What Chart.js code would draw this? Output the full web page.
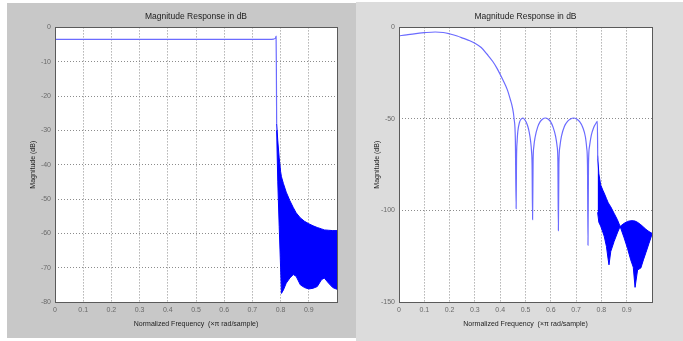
<!DOCTYPE html>
<html><head><meta charset="utf-8">
<script src="https://cdn.jsdelivr.net/npm/chart.js@4.4.0/dist/chart.umd.min.js"></script>
<style>
html,body{margin:0;padding:0;background:#fff;width:683px;height:341px;overflow:hidden}
.pnl{position:absolute}
#pL{left:7px;top:3px;width:349px;height:335px;background:#c8c8c8}
#pR{left:356px;top:2px;width:327px;height:339px;background:#dcdcdc}
canvas{position:absolute}
</style></head><body>
<div class="pnl" id="pL"></div><div class="pnl" id="pR"></div>
<canvas id="cvL" width="349" height="335" style="left:7px;top:3px"></canvas>
<canvas id="cvR" width="327" height="335" style="left:356px;top:3px"></canvas>
<script>
// ═══ DATA ═══
var xTicks=[0,0.1,0.2,0.3,0.4,0.5,0.6,0.7,0.8,0.9];
var leftYTicks=[0,-10,-20,-30,-40,-50,-60,-70,-80];
var rightYTicks=[0,-50,-100,-150];

// left: passband line + dense stopband ripple (drawn as envelope band)
var leftLineFreq=[0,0.76,0.775,0.782,0.784,0.785,0.786];
var leftLineMag=[-3.5,-3.5,-3.4,-3.1,-2.6,-12,-28];
var leftEnvFreq=[0.786,0.79,0.795,0.8,0.803,0.81,0.82,0.833,0.845,0.855,0.87,0.885,0.9,0.915,0.93,0.945,0.955,0.97,0.985,1.0];
var leftUpperMag=[-28,-33,-38,-42,-43.5,-45.5,-48,-50.5,-52.5,-54,-55.5,-56.5,-57.2,-57.8,-58.3,-58.7,-59,-59.1,-59.2,-59.2];
var leftLowerMag=[-30,-45,-58,-70,-77.5,-76.5,-74.5,-73,-72,-72.5,-75,-75.8,-76.2,-76,-75.5,-73.5,-73,-74.5,-75.8,-76.3];

// right: main lobe + equiripple stopband lobes, then dense band
var rightLineFreq=[0,0.03,0.06,0.1,0.143,0.175,0.202,0.23,0.255,0.28,0.3,0.325,0.349,0.37,0.388,0.41,0.428,0.44,0.448,0.455,0.46,0.463,
  0.4645,0.467,0.4695,0.476,0.482,0.489,0.496,0.502,0.509,0.515,0.52,0.524,0.526,0.528,
  0.53,0.533,0.538,0.548,0.558,0.568,0.579,0.589,0.599,0.609,0.619,0.625,0.628,0.63,
  0.632,0.636,0.642,0.654,0.666,0.678,0.69,0.702,0.714,0.726,0.737,0.742,0.745,0.747,
  0.749,0.753,0.76,0.77,0.778,0.784,0.7855];
var rightLineMag=[-4.6,-4.1,-3.5,-2.9,-2.5,-2.8,-3.6,-4.7,-6.0,-7.3,-8.6,-11,-14.8,-18.5,-22.5,-28.5,-34,-39.4,-43.5,-50,-62,-99,
  -72,-62,-57,-52,-50.2,-49.5,-50.2,-51.5,-54,-57.5,-62,-68,-75,-105,
  -73,-65,-60,-54.5,-51.5,-50,-49.5,-50,-51.5,-54.5,-59.5,-65,-73,-111,
  -75,-65,-59.5,-54,-51.3,-50,-49.5,-50,-51.5,-54.5,-60,-66,-75,-119,
  -75,-65,-59,-54.5,-52.5,-51.3,-72];
var rightEnvFreq=[0.785,0.79,0.797,0.806,0.811,0.82,0.826,0.83,0.837,0.85,0.863,0.874,0.89,0.903,0.916,0.926,0.933,0.943,0.956,0.966,0.976,0.988,1.0];
var rightUpperMag=[-70,-80,-86,-89,-90.5,-93.5,-95.5,-96.5,-98,-101.5,-105,-108.7,-107,-106,-105.6,-105.6,-105.8,-106.5,-107.8,-109,-110.3,-111.5,-112.5];
var rightLowerMag=[-101,-106.5,-108.5,-112,-114,-119.7,-126,-129.7,-122.4,-117,-112.3,-108.7,-115,-120.6,-127,-131,-142,-132.5,-131.4,-127,-123,-118,-113];

var TITLE='Magnitude Response in dB';
var XLABEL='Normalized Frequency  (\u00d7\u03c0 rad/sample)';
var YLABEL='Magnitude (dB)';

// ═══ HELPERS ═══
var FONT="'Liberation Sans', Arial, sans-serif";
function pts(fx,my){return fx.map(function(f,i){return{x:f,y:my[i]};});}
function fmtX(v){if(v>0.999)return'';return v===0?'0':String(+v.toFixed(1));}

var areaPlugin={id:'area',
  beforeDraw:function(c){var a=c.chartArea,x=c.ctx;x.save();x.fillStyle='#fff';x.fillRect(a.left,a.top,a.right-a.left,a.bottom-a.top);x.restore();},
  afterDraw:function(c){var a=c.chartArea,x=c.ctx;x.save();x.strokeStyle='#5a5a5a';x.lineWidth=1;
    x.strokeRect(Math.round(a.left)+0.5,Math.round(a.top)+0.5,Math.round(a.right-a.left),Math.round(a.bottom-a.top));x.restore();}
};

function makeChart(id,o){
  var thin='#6b6bff',band='#0000ff';
  var yt=o.yTicks;
  return new Chart(document.getElementById(id),{type:'line',
    data:{datasets:[
      {data:pts(o.lineF,o.lineM),borderColor:thin,borderWidth:1.2,pointRadius:0,fill:false,cubicInterpolationMode:'monotone'},
      {data:pts(o.envF,o.upM),borderColor:band,backgroundColor:band,borderWidth:1,pointRadius:0,fill:'+1'},
      {data:pts(o.envF,o.loM),borderColor:band,borderWidth:1,pointRadius:0,fill:false}
    ]},
    options:{responsive:false,animation:false,devicePixelRatio:1,
      layout:{padding:{left:0,right:o.padR,top:0,bottom:0}},
      plugins:{legend:{display:false},tooltip:{enabled:false},
        title:{display:true,text:TITLE,fullSize:false,color:'#222',font:{family:FONT,size:8.5,weight:'normal'},padding:{top:8.6,bottom:5.6}}},
      scales:{
        x:{type:'linear',min:0,max:1,
          afterBuildTicks:function(s){s.ticks=xTicks.concat([1]).map(function(v){return{value:v};});},
          afterFit:function(s){s.height=36;},
          grid:{color:'#8c8c8c',lineWidth:1,drawTicks:false},border:{display:false,dash:[1,2]},
          ticks:{color:'#6a6a6a',padding:4,maxRotation:0,autoSkip:false,font:{family:FONT,size:7},callback:fmtX},
          title:{display:true,text:XLABEL,color:'#222',font:{family:FONT,size:7},padding:{top:0,bottom:9.8}}},
        y:{type:'linear',min:yt[yt.length-1],max:yt[0],
          afterBuildTicks:function(s){s.ticks=yt.map(function(v){return{value:v};});},
          afterFit:function(s){s.width=o.yW;},
          grid:{color:'#8c8c8c',lineWidth:1,drawTicks:false},border:{display:false,dash:[1,2]},
          ticks:{color:'#6a6a6a',padding:4,autoSkip:false,font:{family:FONT,size:7},callback:function(v){return String(v);}},
          title:{display:true,text:YLABEL,color:'#222',font:{family:FONT,size:7},padding:{top:o.yTitlePad,bottom:0}}}
      }
    },
    plugins:[areaPlugin]
  });
}

makeChart('cvL',{lineF:leftLineFreq,lineM:leftLineMag,envF:leftEnvFreq,upM:leftUpperMag,loM:leftLowerMag,
  yTicks:leftYTicks,yW:48,yTitlePad:21.8,padR:19});
makeChart('cvR',{lineF:rightLineFreq,lineM:rightLineMag,envF:rightEnvFreq,upM:rightUpperMag,loM:rightLowerMag,
  yTicks:rightYTicks,yW:43,yTitlePad:16.8,padR:31});
</script>
</body></html>
